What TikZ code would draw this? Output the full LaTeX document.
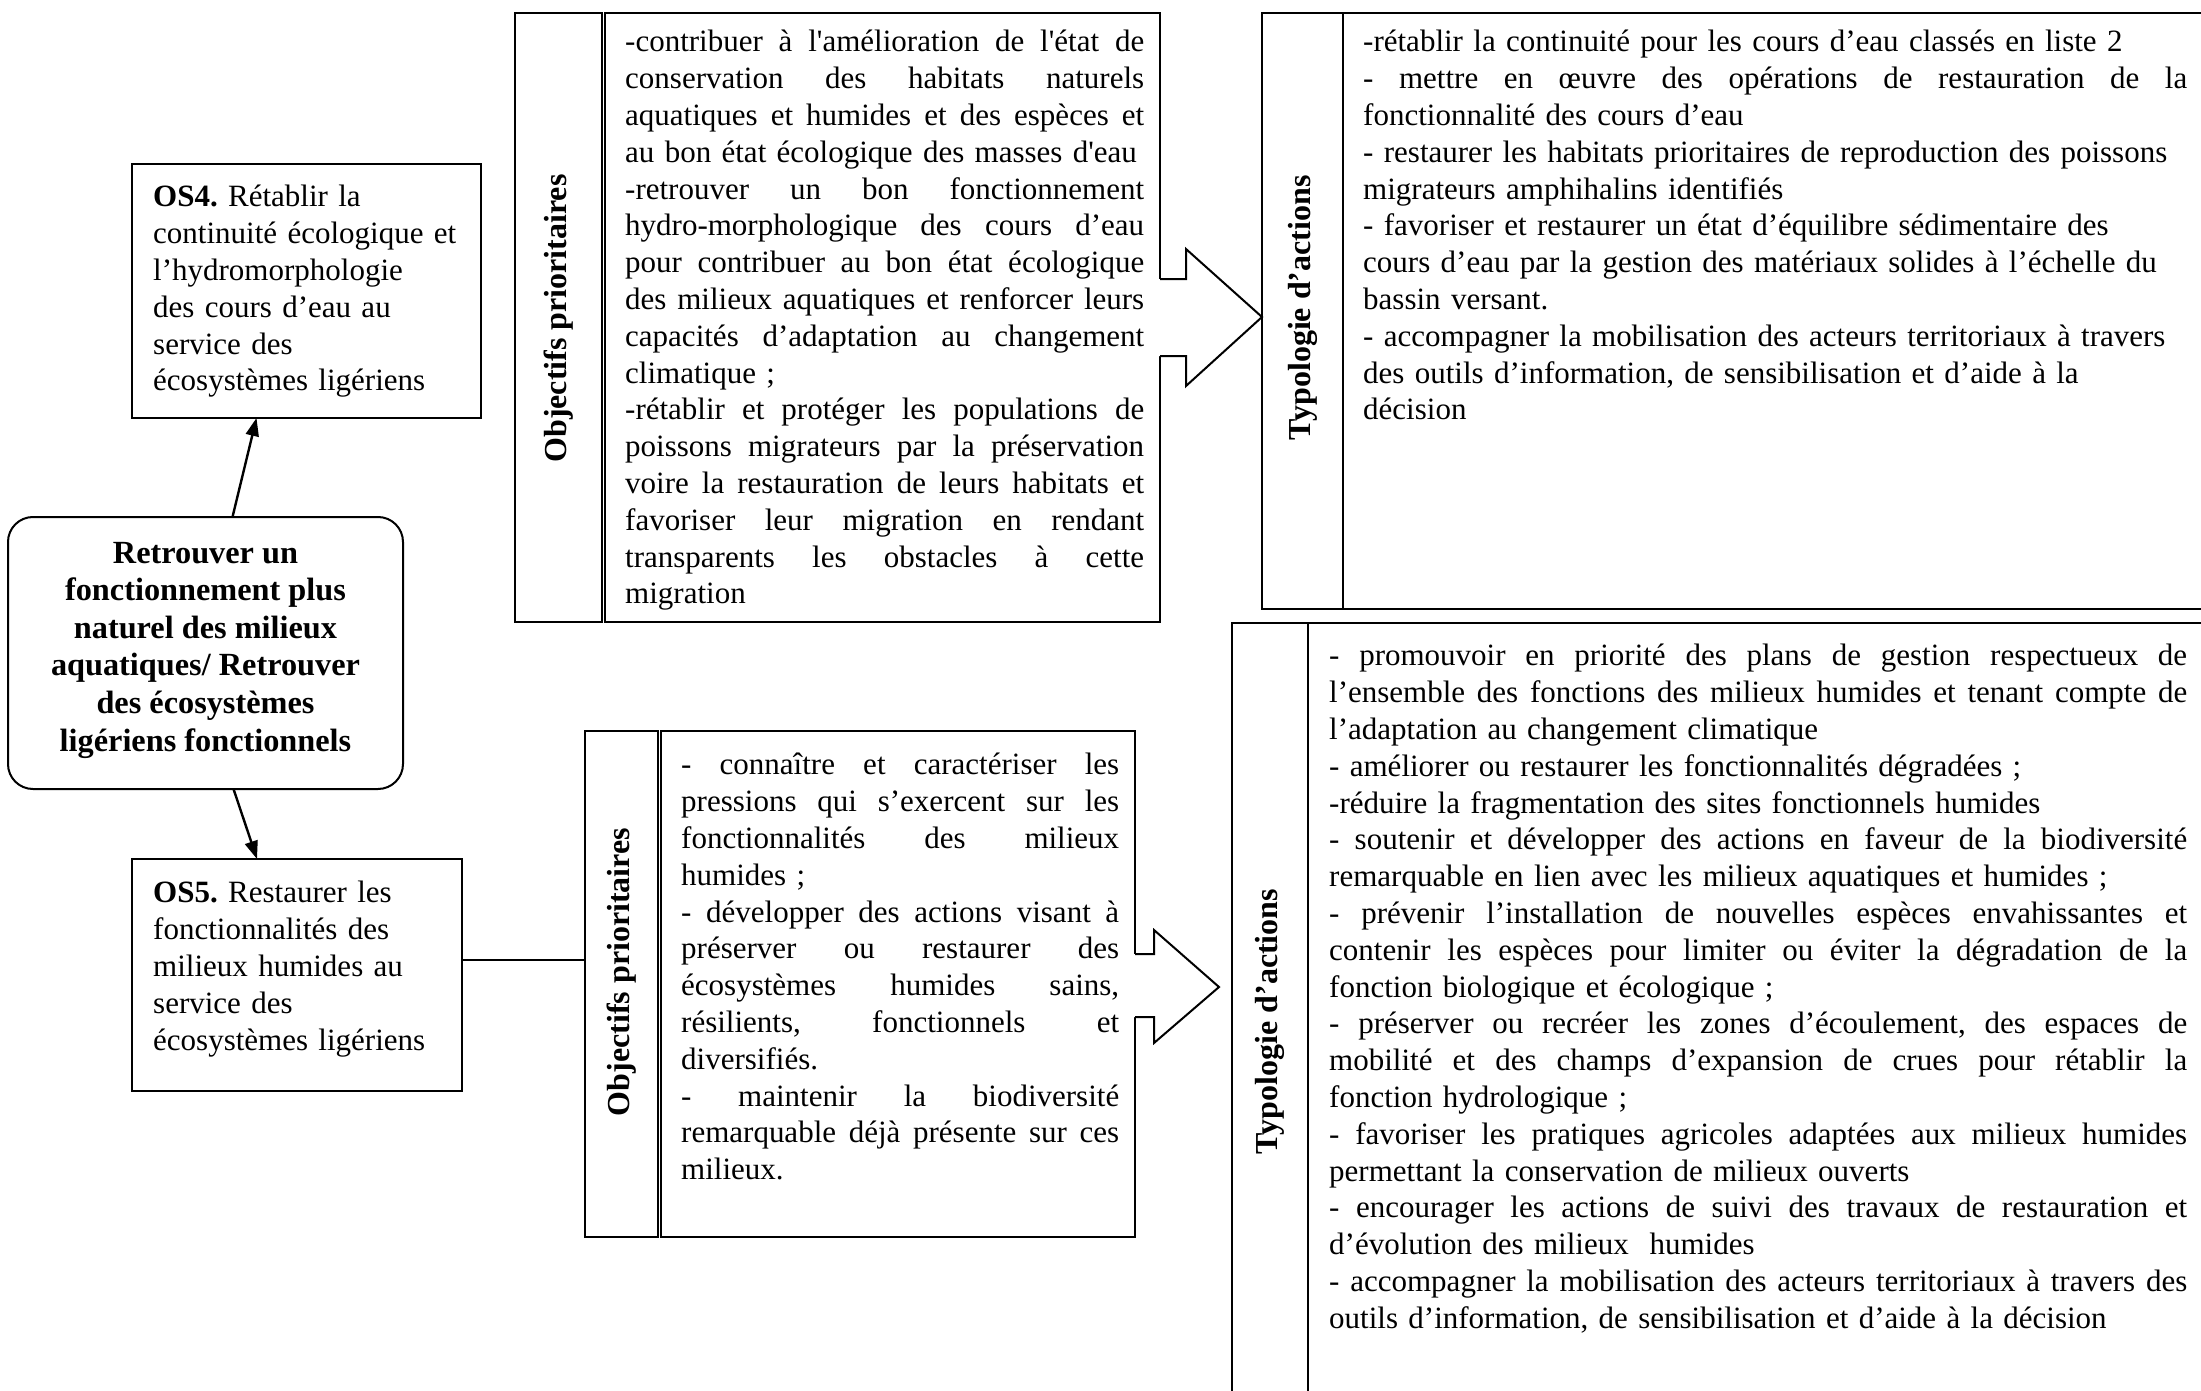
\documentclass[tikz,border=0pt]{standalone}
\usepackage{fontspec}
\setmainfont{Liberation Serif}
\usetikzlibrary{arrows.meta}
\newlength\jw
\newcommand\jl[1]{\leavevmode\hbox to \jw{\spaceskip=0.25em plus 1fil\relax #1}}
\newcommand\sq{\textquotesingle}
\frenchspacing
\tikzset{
  box/.style={draw, line width=2pt, inner sep=0pt, outer sep=0pt, anchor=north west},
  txt/.style={inner sep=0pt, anchor=north west, align=left, font=\fontsize{31}{36.8}\selectfont\frenchspacing},
  vlab/.style={rotate=90, inner sep=0pt, font=\fontsize{32}{36.8}\selectfont\bfseries},
  conn/.style={line width=2.4pt, -{Triangle[length=18pt,width=13pt]}},
  plainline/.style={line width=2pt},
  arrowfill/.style={fill=white},
  arrowedge/.style={line width=2pt, line join=miter},
}
\begin{document}
\begin{tikzpicture}[x=1pt,y=-1pt]
\useasboundingbox[fill=white] (0,0) rectangle (2201,1391);
\clip (0,0) rectangle (2201,1391);

% left column
\node[box, minimum width=349pt, minimum height=254pt] (os4) at (132,164) {};
\node[txt, text width=320pt] (os4t) at (153,181) {\strut\textbf{OS4.} Rétablir la\\continuité écologique et\\l’hydromorphologie\\des cours d’eau au\\service des\\écosystèmes ligériens};

\node[box, rounded corners=25pt, minimum width=395pt, minimum height=272pt] (central) at (8,517) {};
\node[align=center, inner sep=0pt, font=\fontsize{32.3}{37.6}\selectfont\bfseries] (centralt) at (205.5,650) {Retrouver un\\fonctionnement plus\\naturel des milieux\\aquatiques/ Retrouver\\des écosystèmes\\ligériens fonctionnels};

\node[box, minimum width=330pt, minimum height=232pt] (os5) at (132,859) {};
\node[txt, text width=300pt] (os5t) at (153,877) {\strut\textbf{OS5.} Restaurer les\\fonctionnalités des\\milieux humides au\\service des\\écosystèmes ligériens};

\draw[conn] ([xshift=27pt]central.north) -- ([xshift=-50pt]os4.south);
\draw[conn] ([xshift=28pt]central.south) -- ([xshift=-40pt]os5.north);

% objectifs 1
\node[box, minimum width=87pt, minimum height=609pt] (obj1lab) at (515,13) {};
\node[box, minimum width=555pt, minimum height=609pt] (obj1txt) at (605,13) {};
\node[vlab] (obj1v) at ([yshift=-1pt]obj1lab.center) {Objectifs prioritaires};
\node[txt, text width=519pt] (obj1t) at (625,26) {\setlength\jw{519pt}\strut\jl{-contribuer à l\sq amélioration de l\sq état de}\\
\jl{conservation des habitats naturels}\\
\jl{aquatiques et humides et des espèces et}\\
au bon état écologique des masses d\sq eau\\
\jl{-retrouver un bon fonctionnement}\\
\jl{hydro-morphologique des cours d’eau}\\
\jl{pour contribuer au bon état écologique}\\
\jl{des milieux aquatiques et renforcer leurs}\\
\jl{capacités d’adaptation au changement}\\
climatique ;\\
\jl{-rétablir et protéger les populations de}\\
\jl{poissons migrateurs par la préservation}\\
\jl{voire la restauration de leurs habitats et}\\
\jl{favoriser leur migration en rendant}\\
\jl{transparents les obstacles à cette}\\
migration};

% typologie 1
\node[box, minimum width=81pt, minimum height=596pt] (typo1lab) at (1262,13) {};
\node[box, minimum width=900pt, minimum height=596pt] (typo1txt) at (1343,13) {};
\node[vlab] (typo1v) at ([yshift=3pt]typo1lab.center) {Typologie d’actions};
\node[txt, text width=824pt] (typo1t) at (1363,26) {\setlength\jw{824pt}\strut-rétablir la continuité pour les cours d’eau classés en liste 2\\
\jl{- mettre en œuvre des opérations de restauration de la}\\
fonctionnalité des cours d’eau\\
- restaurer les habitats prioritaires de reproduction des poissons\\
migrateurs amphihalins identifiés\\
- favoriser et restaurer un état d’équilibre sédimentaire des\\
cours d’eau par la gestion des matériaux solides à l’échelle du\\
bassin versant.\\
- accompagner la mobilisation des acteurs territoriaux à travers\\
des outils d’information, de sensibilisation et d’aide à la\\
décision};

% block arrow 1
\path[arrowfill] (1157,279) -- (1186,279) -- (1186,249) -- (1262,317) -- (1186,386) -- (1186,356) -- (1157,356) -- cycle;
\draw[arrowedge] (1160,279) -- (1186,279) -- (1186,249) -- (1262,317) -- (1186,386) -- (1186,356) -- (1160,356);

% objectifs 2
\node[box, minimum width=73pt, minimum height=506pt] (obj2lab) at (585,731) {};
\node[box, minimum width=474pt, minimum height=506pt] (obj2txt) at (661,731) {};
\node[vlab] (obj2v) at ([yshift=12pt]obj2lab.center) {Objectifs prioritaires};
\node[txt, text width=438pt] (obj2t) at (681,749) {\setlength\jw{438pt}\strut\jl{- connaître et caractériser les}\\
\jl{pressions qui s’exercent sur les}\\
\jl{fonctionnalités des milieux}\\
humides ;\\
\jl{- développer des actions visant à}\\
\jl{préserver ou restaurer des}\\
\jl{écosystèmes humides sains,}\\
\jl{résilients, fonctionnels et}\\
diversifiés.\\
\jl{- maintenir la biodiversité}\\
\jl{remarquable déjà présente sur ces}\\
milieux.};

\draw[plainline] ([yshift=15pt]os5.east) -- ([yshift=15pt]os5.east -| obj2lab.west);

% block arrow 2
\path[arrowfill] (1132,954) -- (1154,954) -- (1154,930) -- (1219,987) -- (1154,1043) -- (1154,1017) -- (1132,1017) -- cycle;
\draw[arrowedge] (1135,954) -- (1154,954) -- (1154,930) -- (1219,987) -- (1154,1043) -- (1154,1017) -- (1135,1017);

% typologie 2
\node[box, minimum width=76pt, minimum height=797pt] (typo2lab) at (1232,623) {};
\node[box, minimum width=935pt, minimum height=797pt] (typo2txt) at (1308,623) {};
\node[vlab] (typo2v) at (typo2lab.center) {Typologie d’actions};
\node[txt, text width=858pt] (typo2t) at (1329,640) {\setlength\jw{858pt}\strut\jl{- promouvoir en priorité des plans de gestion respectueux de}\\
\jl{l’ensemble des fonctions des milieux humides et tenant compte de}\\
l’adaptation au changement climatique\\
- améliorer ou restaurer les fonctionnalités dégradées ;\\
-réduire la fragmentation des sites fonctionnels humides\\
\jl{- soutenir et développer des actions en faveur de la biodiversité}\\
remarquable en lien avec les milieux aquatiques et humides ;\\
\jl{- prévenir l’installation de nouvelles espèces envahissantes et}\\
\jl{contenir les espèces pour limiter ou éviter la dégradation de la}\\
fonction biologique et écologique ;\\
\jl{- préserver ou recréer les zones d’écoulement, des espaces de}\\
\jl{mobilité et des champs d’expansion de crues pour rétablir la}\\
fonction hydrologique ;\\
\jl{- favoriser les pratiques agricoles adaptées aux milieux humides}\\
permettant la conservation de milieux ouverts\\
\jl{- encourager les actions de suivi des travaux de restauration et}\\
d’évolution des milieux \ humides\\
\jl{- accompagner la mobilisation des acteurs territoriaux à travers des}\\
outils d’information, de sensibilisation et d’aide à la décision};
\end{tikzpicture}
\end{document}
